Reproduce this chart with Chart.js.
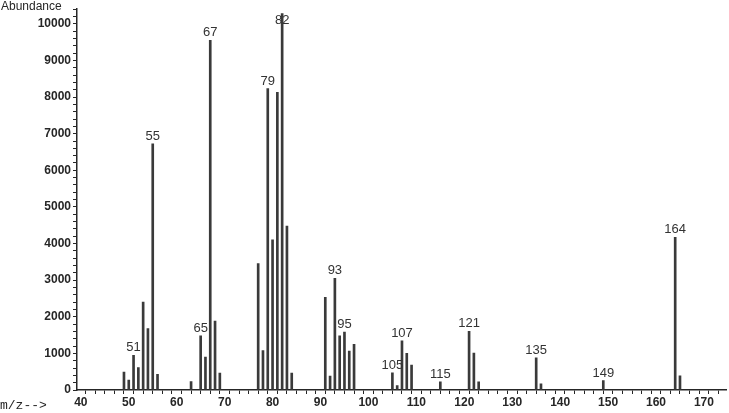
<!DOCTYPE html>
<html>
<head>
<meta charset="utf-8">
<script src="https://cdn.jsdelivr.net/npm/chart.js@4.4.1/dist/chart.umd.min.js"></script>
<style>
    html, body { margin: 0; padding: 0; background: #fff; }
    canvas { display: block; }
</style>
</head>
<body>
<canvas id="spectrum" width="729" height="413"></canvas>
<script>
// m/z values and their abundances
const mz = [49, 50, 51, 52, 53, 54, 55, 56, 63, 65, 66, 67, 68, 69,
    77, 78, 79, 80, 81, 82, 83, 84, 91, 92, 93, 94, 95, 96, 97,
    105, 106, 107, 108, 109, 115, 121, 122, 123, 135, 136, 149, 164, 165];
const abundance = [490, 270, 950, 610, 2400, 1680, 6720, 430, 230, 1480, 900, 9550, 1880, 460,
    3450, 1080, 8230, 4100, 8130, 10280, 4480, 460, 2530, 380, 3050, 1480, 1580, 1060, 1250,
    470, 120, 1340, 1000, 680, 220, 1600, 1010, 220, 880, 170, 260, 4170, 390];
// peaks that carry a number above them
const labelledPeaks = [51, 55, 65, 67, 79, 82, 93, 95, 105, 107, 115, 121, 135, 149, 164];

const INK = '#262626';
const FONT = 'Liberation Sans, Arial, sans-serif';

// numbers over the peaks + the two axis captions
const peakLabelPlugin = {
    id: 'peakLabels',
    afterDatasetsDraw(chart) {
        const { ctx, scales } = chart;
        ctx.save();
        ctx.fillStyle = '#333';
        ctx.font = '13px ' + FONT;
        ctx.textAlign = 'center';
        ctx.textBaseline = 'bottom';
        labelledPeaks.forEach(m => {
            const i = mz.indexOf(m);
            const x = scales.x.getPixelForValue(m);
            const y = scales.y.getPixelForValue(abundance[i]);
            ctx.fillText(String(m), x, Math.max(y - 1, 27));
        });

        ctx.fillStyle = INK;
        ctx.textAlign = 'left';
        ctx.textBaseline = 'alphabetic';
        ctx.font = '12px ' + FONT;
        ctx.fillText('Abundance', 1, 10);
        ctx.font = '13px Liberation Mono, monospace';
        ctx.fillText('m/z-->', 0, 409);
        ctx.restore();
    }
};

new Chart(document.getElementById('spectrum'), {
    type: 'bar',
    plugins: [peakLabelPlugin],
    data: {
        datasets: [{
            data: mz.map((m, i) => ({ x: m, y: abundance[i] })),
            backgroundColor: '#3a3a3a',
            borderWidth: 0,
            barThickness: 2
        }]
    },
    options: {
        responsive: false,
        animation: false,
        devicePixelRatio: 1,
        layout: { padding: { top: 8, right: 3, left: 0, bottom: 0 } },
        plugins: {
            legend: { display: false },
            tooltip: { enabled: false }
        },
        scales: {
            x: {
                type: 'linear',
                min: 39.2,
                max: 174.6,
                offset: false,
                grid: { drawOnChartArea: false, tickLength: 4, color: INK },
                border: { color: INK, width: 1.5 },
                ticks: {
                    stepSize: 2,
                    autoSkip: false,
                    includeBounds: false,
                    maxRotation: 0,
                    padding: 1,
                    color: INK,
                    font: { family: FONT, size: 12, weight: 'bold' },
                    callback: v => (v % 10 === 0 ? v : '')
                },
                afterFit: s => { s.height = 23; }
            },
            y: {
                min: 0,
                max: 10400,
                grid: { drawOnChartArea: false, tickLength: 4, color: INK },
                border: { color: INK, width: 1.5 },
                ticks: {
                    stepSize: 200,
                    autoSkip: false,
                    includeBounds: false,
                    padding: 2,
                    color: INK,
                    font: { family: FONT, size: 12, weight: 'bold' },
                    callback: v => (v % 1000 === 0 ? v : '')
                },
                afterFit: s => { s.width = 77; }
            }
        }
    }
});
</script>
</body>
</html>
